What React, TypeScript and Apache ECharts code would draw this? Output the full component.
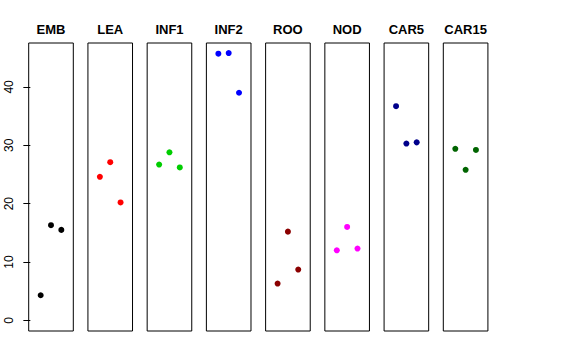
import React, { useEffect, useRef } from "react";
import * as echarts from "echarts";

const categories = ["EMB", "LEA", "INF1", "INF2", "ROO", "NOD", "CAR5", "CAR15"];
const EMB = [4.3, 16.3, 15.5];
const LEA = [24.6, 27.1, 20.2];
const INF1 = [26.7, 28.8, 26.2];
const INF2 = [45.7, 45.8, 39.0];
const ROO = [6.3, 15.2, 8.7];
const NOD = [12.0, 16.0, 12.3];
const CAR5 = [36.7, 30.3, 30.5];
const CAR15 = [29.4, 25.8, 29.2];
const seriesValues = [EMB, LEA, INF1, INF2, ROO, NOD, CAR5, CAR15];
const colors = ["#000000", "#FF0000", "#00CD00", "#0000FF", "#8B0000", "#FF00FF", "#00008B", "#006400"];
const yTicks = [0, 10, 20, 30, 40];

export default function App() {
  const ref = useRef<HTMLDivElement>(null);
  useEffect(() => {
    if (!ref.current) return;
    const chart = echarts.init(ref.current, null, { renderer: "svg" });
    const font = "'Liberation Sans', Arial, Helvetica, sans-serif";
    const pitch = 59.23;
    const left0 = 28.7;
    const w = 44.6;
    const top = 43;
    const h = 288;
    const yMin = -1.83;
    const yMax = 47.53;
    const grids: any[] = [];
    const xAxes: any[] = [];
    const yAxes: any[] = [];
    const series: any[] = [];
    const titles: any[] = [];
    categories.forEach((c, i) => {
      const left = left0 + i * pitch;
      grids.push({ left, top, width: w, height: h, show: true, borderColor: "#000", borderWidth: 1, backgroundColor: "transparent" });
      xAxes.push({ type: "value", gridIndex: i, min: -0.16, max: 4.16, show: false });
      yAxes.push({
        type: "value",
        gridIndex: i,
        min: yMin,
        max: yMax,
        show: i === 0,
        splitLine: { show: false },
        axisLine: { show: false },
        axisTick: { show: true, length: 7, customValues: yTicks, lineStyle: { color: "#000" } },
        axisLabel: {
          show: true,
          customValues: yTicks,
          rotate: 90,
          margin: 14,
          fontSize: 12,
          color: "#000",
          fontFamily: font,
        },
      });
      series.push({
        type: "scatter",
        xAxisIndex: i,
        yAxisIndex: i,
        symbolSize: 6,
        itemStyle: { color: colors[i], opacity: 1 },
        data: seriesValues[i].map((v, j) => [j + 1, v]),
      });
      titles.push({
        text: c,
        left: left + w / 2,
        top: 23,
        textAlign: "center",
        padding: 0,
        textStyle: { fontSize: 13, fontWeight: "bold", color: "#000", fontFamily: font },
      });
    });
    chart.setOption({
      animation: false,
      backgroundColor: "#fff",
      title: titles,
      grid: grids,
      xAxis: xAxes,
      yAxis: yAxes,
      series,
    });
    return () => chart.dispose();
  }, []);
  return <div ref={ref} style={{ position: "fixed", left: 0, top: 0, width: 576, height: 360 }} />;
}
